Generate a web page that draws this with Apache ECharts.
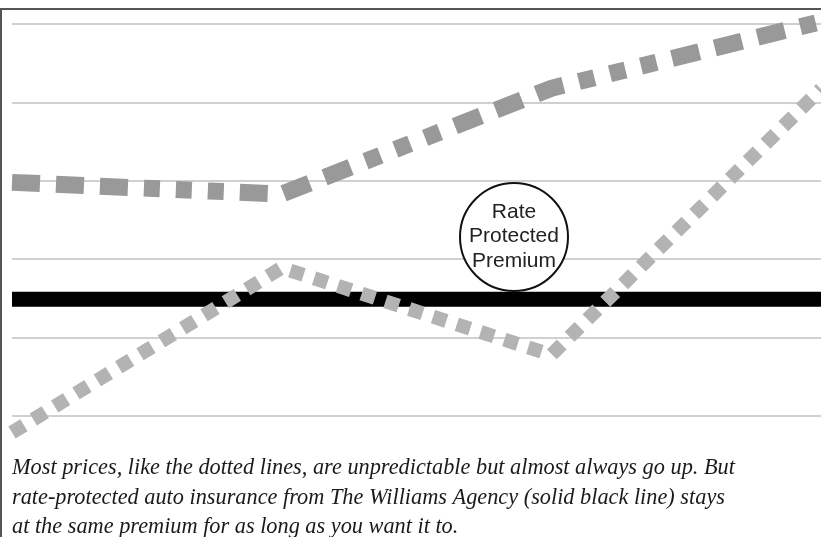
<!DOCTYPE html>
<html>
<head>
<meta charset="utf-8">
<style>
  html, body { margin: 0; padding: 0; background: #fff; }
  #chart { width: 821px; height: 537px; }
</style>
<script src="https://cdn.jsdelivr.net/npm/echarts@6/dist/echarts.min.js"></script>
</head>
<body>
<div id="chart"></div>
<script>
// ---- data ----
const categories = ['P1', 'P2', 'P3', 'P4'];
const upperPrices = [2.98, 2.83, 4.18, 5.03];
const lowerPrices = [-0.21, 1.89, 0.78, 4.17];
const protectedPremium = [1.49, 1.49, 1.49, 1.49];
const circleLabel = ['Rate', 'Protected', 'Premium'];
const captionLines = [
  'Most prices, like the dotted lines, are unpredictable but almost always go up. But',
  'rate-protected auto insurance from The Williams Agency (solid black line) stays',
  'at the same premium for as long as you want it to.'
];

const chart = echarts.init(document.getElementById('chart'), null, { renderer: 'canvas' });

const graphics = [
  // frame (top and left)
  { type: 'line', shape: { x1: 0, y1: 9, x2: 821, y2: 9 }, style: { stroke: '#555', lineWidth: 2 }, z: 100 },
  { type: 'line', shape: { x1: 1, y1: 8, x2: 1, y2: 537 }, style: { stroke: '#555', lineWidth: 2 }, z: 100 },
  // annotation circle
  { type: 'circle', shape: { cx: 514, cy: 237, r: 54 }, style: { fill: '#fff', stroke: '#111', lineWidth: 2 }, z: 50 }
];
const labelYs = [212, 236.5, 261];
circleLabel.forEach((t, i) => {
  graphics.push({
    type: 'text', x: 514, y: labelYs[i], z: 51,
    style: { text: t, fill: '#222', font: '21px "Liberation Sans", Arial, sans-serif', align: 'center', verticalAlign: 'middle' }
  });
});
const capYs = [468, 498, 527];
captionLines.forEach((t, i) => {
  graphics.push({
    type: 'text', x: 12, y: capYs[i], z: 51,
    style: { text: t, fill: '#1a1a1a', font: 'italic 22.3px "Liberation Serif", "Times New Roman", serif', align: 'left', verticalAlign: 'middle' }
  });
});

const option = {
  animation: false,
  backgroundColor: '#fff',
  grid: { left: 12, right: 0, top: 24, bottom: 121 },
  xAxis: {
    type: 'category', data: categories, boundaryGap: false,
    axisLine: { show: false }, axisTick: { show: false }, axisLabel: { show: false }, splitLine: { show: false }
  },
  yAxis: {
    type: 'value', min: 0, max: 5, interval: 1,
    axisLine: { show: false }, axisTick: { show: false }, axisLabel: { show: false },
    splitLine: { show: true, lineStyle: { color: '#c0c0c0', width: 1.5 } }
  },
  series: [
    {
      name: 'Protected', type: 'line', data: protectedPremium, symbol: 'none', clip: false, z: 3,
      lineStyle: { color: '#000', width: 15, cap: 'butt' }
    },
    {
      name: 'Upper', type: 'line', data: upperPrices, symbol: 'none', clip: false, z: 2,
      lineStyle: { color: '#999999', width: 17, cap: 'butt', join: 'miter',
        type: [28, 16, 28, 16, 28, 16, 16, 16, 16, 16, 16, 16] }
    },
    {
      name: 'Lower', type: 'line', data: lowerPrices, symbol: 'none', clip: false, z: 4,
      lineStyle: { color: '#b3b3b3', width: 14, cap: 'butt', type: [14, 11] }
    }
  ],
  graphic: graphics
};
chart.setOption(option);
</script>
</body>
</html>
